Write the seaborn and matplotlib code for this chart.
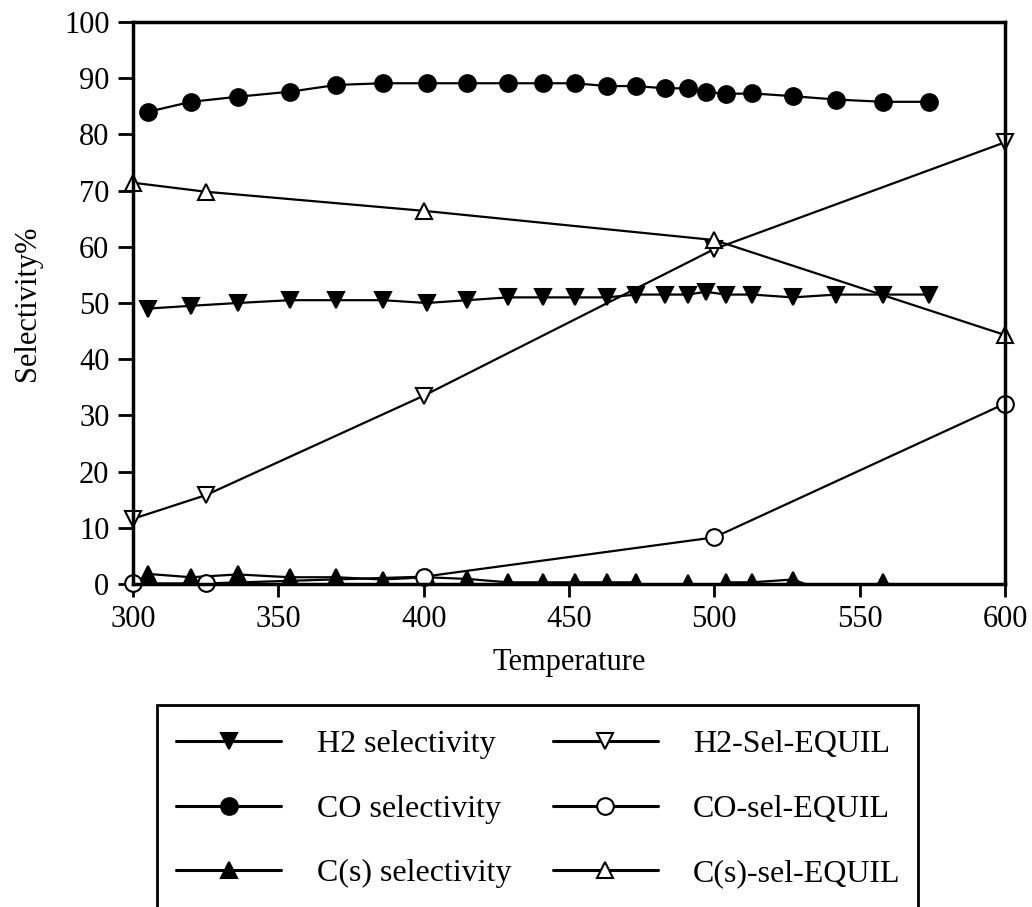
import matplotlib
matplotlib.use("Agg")
import matplotlib.pyplot as plt
from matplotlib.patches import Rectangle
import pandas as pd
import seaborn as sns

# measured selectivities (experiment)
temps_exp = [305, 320, 336, 354, 370, 386, 401, 415, 429, 441, 452,
             463, 473, 483, 491, 497, 504, 513, 527, 542, 558, 574]
h2_sel = [49.0, 49.5, 50.0, 50.5, 50.5, 50.5, 50.0, 50.5, 51.0, 51.0, 51.0,
          51.0, 51.5, 51.5, 51.5, 52.0, 51.5, 51.5, 51.0, 51.5, 51.5, 51.5]
co_sel = [84.0, 85.8, 86.7, 87.6, 88.8, 89.1, 89.1, 89.1, 89.1, 89.1, 89.1,
          88.6, 88.6, 88.2, 88.2, 87.6, 87.2, 87.3, 86.8, 86.2, 85.8, 85.8]
cs_sel = [1.8, 1.2, 1.7, 1.2, 1.2, 0.8, 1.2, 0.9, 0.3, 0.3, 0.3,
          0.3, 0.3, -2.0, 0.2, -2.0, 0.3, 0.3, 0.8, -2.0, 0.3, -2.0]

# equilibrium calculation
temps_eq = [300, 325, 400, 500, 600]
h2_eq = [11.6, 15.8, 33.5, 59.6, 78.6]
co_eq = [0.1, 0.1, 1.3, 8.3, 32.1]
cs_eq = [71.4, 69.8, 66.4, 61.2, 44.3]

sns.set_style("white")
plt.rcParams["font.family"] = ["Liberation Serif", "DejaVu Serif"]
plt.rcParams["font.size"] = 22
for key in ["text.color", "axes.labelcolor", "xtick.color", "ytick.color"]:
    plt.rcParams[key] = "black"

fig = plt.figure(figsize=(10.32, 9.07), dpi=100)
ax = fig.add_axes([133 / 1032, 1 - 584 / 907, 872 / 1032, 562 / 907])

series = [
    ("H2 selectivity", temps_exp, h2_sel, "v", "black", True),
    ("CO selectivity", temps_exp, co_sel, "o", "black", False),
    ("C(s) selectivity", temps_exp, cs_sel, "^", "black", True),
    ("H2-Sel-EQUIL", temps_eq, h2_eq, "v", "white", False),
    ("CO-sel-EQUIL", temps_eq, co_eq, "o", "white", False),
    ("C(s)-sel-EQUIL", temps_eq, cs_eq, "^", "white", False),
]

for name, xs, ys, mk, face, clip in series:
    df = pd.DataFrame({"Temperature": xs, "Selectivity": ys})
    sns.lineplot(data=df, x="Temperature", y="Selectivity", ax=ax,
                 color="black", lw=1.6, marker=mk, markersize=12,
                 mfc=face, mec="black", mew=1.5, label=name, clip_on=clip)

if ax.get_legend() is not None:
    ax.get_legend().remove()

ax.set_xlim(300, 600)
ax.set_ylim(0, 100)
ax.set_xticks([300, 350, 400, 450, 500, 550, 600])
ax.set_yticks(range(0, 101, 10))
ax.set_xlabel("Temperature", fontsize=22, labelpad=10)
ax.set_ylabel("Selectivity%", fontsize=22, labelpad=16)

for s in ax.spines.values():
    s.set_visible(True)
    s.set_color("black")
    s.set_linewidth(2.5)
ax.tick_params(axis="y", left=True, direction="out", length=11, width=2,
               pad=6, labelsize=22)
ax.tick_params(axis="x", bottom=True, direction="out", length=9, width=2,
               pad=6, labelsize=22)

handles, labels = ax.get_legend_handles_labels()
leg = fig.legend(handles, labels, loc="upper left",
                 bbox_to_anchor=(160 / 1032, 1 - 714 / 907),
                 ncol=2, frameon=False, fontsize=23, borderpad=0,
                 handlelength=3.3, handletextpad=1.1, columnspacing=1.3,
                 labelspacing=1.1)
for line in leg.get_lines():
    line.set_linewidth(2.2)

# legend frame runs off the bottom of the picture
fig.patches.append(Rectangle((157 / 1032, -0.05), (918 - 157) / 1032,
                             (1 - 705 / 907) + 0.05, transform=fig.transFigure,
                             fill=False, ec="black", lw=2))

fig.savefig("out.png", dpi=100)
